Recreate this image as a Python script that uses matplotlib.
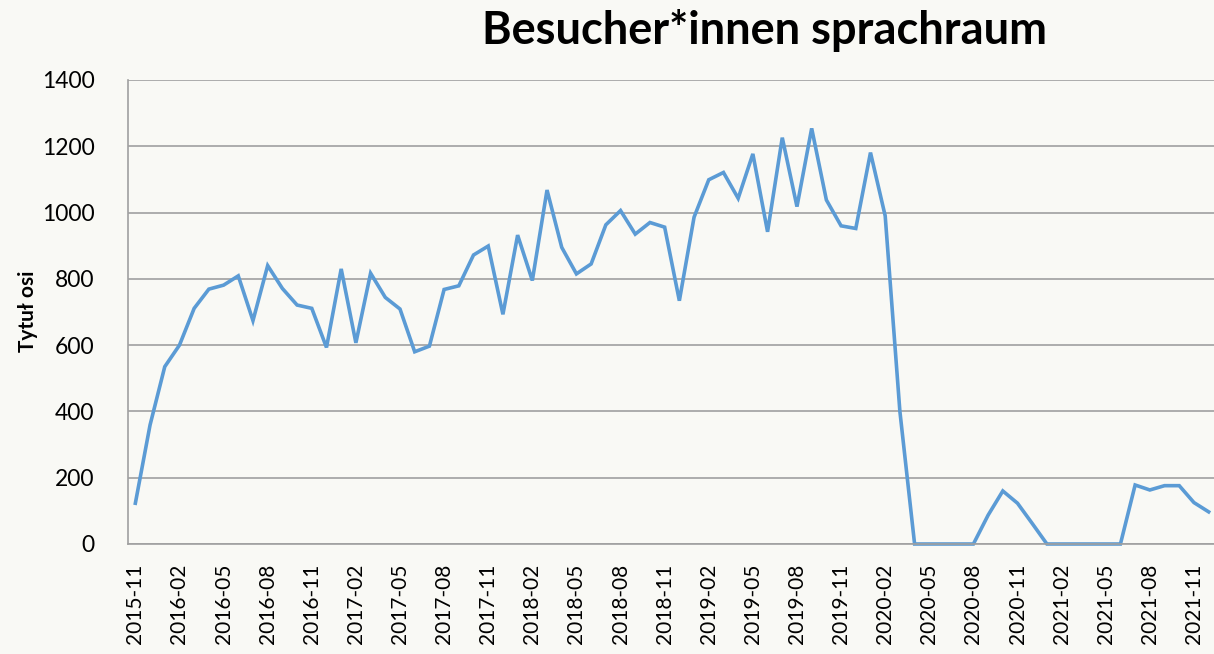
import numpy as np
import matplotlib
matplotlib.use("Agg")
import matplotlib.pyplot as plt

# monthly visitors, 2015-11 .. 2021-12
start_year, start_month = 2015, 11
visitors = [
    123, 359, 535, 600, 711, 769, 781, 809, 674, 840,
    771, 721, 711, 593, 830, 607, 817, 744, 709, 580,
    597, 768, 779, 872, 899, 693, 932, 795, 1068, 895,
    815, 845, 963, 1006, 935, 970, 956, 734, 986, 1099,
    1121, 1043, 1177, 942, 1226, 1018, 1254, 1038, 960, 952,
    1181, 990, 400, 0, 0, 0, 0, 0, 87, 160,
    123, 62, 0, 0, 0, 0, 0, 0, 178, 163,
    176, 176, 125, 97,
]

months = []
y, m = start_year, start_month
for _ in visitors:
    months.append(f"{y}-{m:02d}")
    m += 1
    if m > 12:
        m = 1
        y += 1

BG = "#f9f9f5"
GRID = "#a0a0a0"
LINE = "#5b9bd5"

W, H = 1214, 654
fig = plt.figure(figsize=(W / 100, H / 100), dpi=100, facecolor=BG)
ax = fig.add_axes([128 / W, 110 / H, (1216 - 128) / W, 464 / H], facecolor=BG)

x = np.arange(len(visitors))
ax.plot(x, visitors, color=LINE, linewidth=2.6, solid_joinstyle="miter", clip_on=False)

ax.set_xlim(-0.5, len(visitors) - 0.5)
ax.set_ylim(0, 1400)
ax.set_yticks(range(0, 1401, 200))
ax.yaxis.grid(True, color=GRID, linewidth=1.2)
ax.set_axisbelow(True)

ax.set_xticks(x[::3])
ax.set_xticklabels(months[::3], rotation=90, fontsize=15, family="Lato")
for lbl in ax.get_yticklabels():
    lbl.set_fontsize(16.5)
    lbl.set_family("Lato")
ax.tick_params(length=0, pad=14, colors="black")
ax.tick_params(axis="y", pad=24)

for side in ["top", "right"]:
    ax.spines[side].set_visible(False)
for side in ["left", "bottom"]:
    ax.spines[side].set_color(GRID)
    ax.spines[side].set_linewidth(1.2)

# axis title placed by hand, like the Excel original
fig.text(28 / W, 1 - 311 / H, "Tytuł osi", rotation=90, ha="center", va="center",
         fontsize=15, fontweight="bold", family="Lato")
fig.text(765 / W, 1 - 30 / H, "Besucher*innen sprachraum", ha="center", va="center",
         fontsize=32.5, fontweight="bold", family="Lato")

fig.savefig("out.png", dpi=100, facecolor=BG)
